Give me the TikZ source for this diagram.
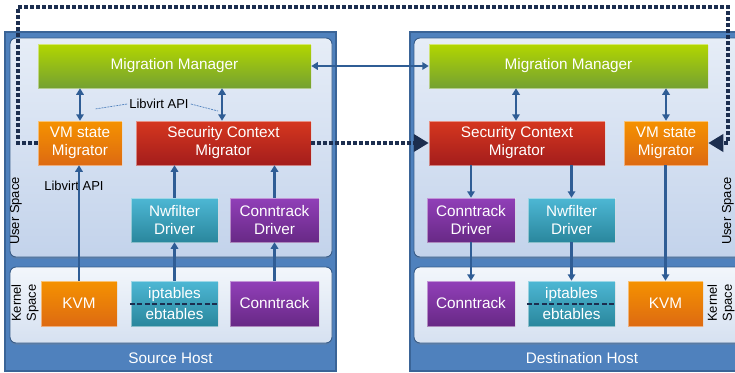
\documentclass[tikz,border=0pt]{standalone}
\usepackage{fontspec}
\setmainfont{Liberation Sans}
\usetikzlibrary{arrows.meta,shadows}
\definecolor{hostfill}{HTML}{4F81BD}
\definecolor{hostdraw}{HTML}{3A6497}
\definecolor{userT}{HTML}{E6EDF7}
\definecolor{userB}{HTML}{C3D3EB}
\definecolor{kernT}{HTML}{F2F6FB}
\definecolor{kernB}{HTML}{D6E1F1}
\definecolor{panelDraw}{HTML}{385D8A}
\definecolor{grT}{HTML}{B2D600}
\definecolor{grB}{HTML}{74A132}
\definecolor{orT}{HTML}{F59200}
\definecolor{orB}{HTML}{DD6A12}
\definecolor{reT}{HTML}{D5371F}
\definecolor{reB}{HTML}{A41D1C}
\definecolor{teT}{HTML}{4DB7D4}
\definecolor{teB}{HTML}{2A879D}
\definecolor{puT}{HTML}{913FB8}
\definecolor{puB}{HTML}{682986}
\definecolor{arr}{HTML}{2F5D95}
\definecolor{navy}{HTML}{1C2E4F}
\definecolor{callc}{HTML}{4F81BD}
\tikzset{
  blk/.style={rectangle, inner sep=0pt, align=center, text=white,
    font=\fontsize{15.3}{18}\selectfont, draw=white, draw opacity=0.45, line width=0.5pt,
    drop shadow={opacity=0.25, shadow xshift=0.8pt, shadow yshift=-1.2pt}},
  sz/.style 2 args={minimum width=#1, minimum height=#2},
  grn/.style={blk, top color=grT, bottom color=grB},
  org/.style={blk, top color=orT, bottom color=orB},
  red/.style={blk, top color=reT, bottom color=reB},
  teal/.style={blk, top color=teT, bottom color=teB},
  purp/.style={blk, top color=puT, bottom color=puB},
  host/.style={fill=hostfill, draw=hostdraw, line width=1.5pt},
  userp/.style={top color=userT, bottom color=userB, draw=panelDraw, line width=0.9pt, rounded corners=6pt},
  kernp/.style={top color=kernT, bottom color=kernB, draw=panelDraw, line width=0.9pt, rounded corners=6pt},
  lbl/.style={font=\fontsize{13}{15}\selectfont, text=black, inner sep=2pt},
  rlbl/.style={lbl, rotate=90, align=center},
  hlbl/.style={font=\fontsize{15.3}{18}\selectfont, text=white},
  link/.style={draw=arr, line width=2.3pt, -{Triangle[length=6.5pt,width=7.5pt]}},
  dlink/.style={draw=arr, line width=2.3pt, {Triangle[length=6.5pt,width=7.5pt]}-{Triangle[length=6.5pt,width=7.5pt]}},
  dotline/.style={draw=navy, line width=3.6pt, dash pattern=on 3.4pt off 2.6pt, -{Triangle[length=15pt,width=17pt]}},
  callout/.style={draw=callc, line width=0.7pt, dash pattern=on 2pt off 1pt},
  sep/.style={draw=navy, line width=2pt, dash pattern=on 5pt off 2.5pt}
}
\begin{document}
\begin{tikzpicture}[x=1pt, y=-1pt]
\clip (0,0) rectangle (735,372);
\fill[white] (0,0) rectangle (735,372);
% hosts
\path[host] (5,32) rectangle (336,371);
\path[host] (410,32) rectangle (745,371);
\path[userp, drop shadow={opacity=0.3, shadow xshift=0pt, shadow yshift=-1.5pt}] (10,38) rectangle (332,257);
\path[kernp, drop shadow={opacity=0.3, shadow xshift=0pt, shadow yshift=-1.5pt}] (10,267) rectangle (332,343);
\path[userp, drop shadow={opacity=0.3, shadow xshift=0pt, shadow yshift=-1.5pt}] (414,38) rectangle (760,257);
\path[kernp, drop shadow={opacity=0.3, shadow xshift=0pt, shadow yshift=-1.5pt}] (414,267) rectangle (760,343);
\node[hlbl] (src) at (170.5,358) {Source Host};
\node[hlbl] (dst) at (582,358) {Destination Host};
\node[rlbl] (us1) at (16,211) {User Space};
\node[rlbl] (ks1) at (25,303) {Kernel\\Space};
\node[rlbl] (us2) at (728,211) {User Space};
\node[rlbl] (ks2) at (721,303) {Kernel\\Space};
% source boxes
\node[grn, sz={273pt}{44pt}] (mm1) at (174.5,66) {Migration Manager};
\node[org, sz={84pt}{44pt}] (vms1) at (80,143) {VM state\\Migrator};
\node[red, sz={175pt}{44pt}] (scm1) at (223.5,143) {Security Context\\Migrator};
\node[teal, sz={87pt}{44pt}] (nf1) at (174.5,220) {Nwfilter\\Driver};
\node[purp, sz={89pt}{44pt}] (cd1) at (274.5,220) {Conntrack\\Driver};
\node[org, sz={76pt}{45pt}] (kvm1) at (79,303.5) {KVM};
\node[teal, sz={87pt}{45pt}, font=\fontsize{15.3}{21}\selectfont] (ipt1) at (174.5,303.5) {iptables\\ebtables};
\node[purp, sz={89pt}{45pt}] (ct1) at (274.5,303.5) {Conntrack};
% dest boxes
\node[grn, sz={279pt}{44pt}] (mm2) at (568.5,66) {Migration Manager};
\node[red, sz={176pt}{44pt}] (scm2) at (517,143) {Security Context\\Migrator};
\node[org, sz={84pt}{44pt}] (vms2) at (666,143) {VM state\\Migrator};
\node[purp, sz={88pt}{44pt}] (cd2) at (471,220) {Conntrack\\Driver};
\node[teal, sz={87pt}{44pt}] (nf2) at (571.5,220) {Nwfilter\\Driver};
\node[purp, sz={88pt}{45pt}] (ct2) at (471,303.5) {Conntrack};
\node[teal, sz={87pt}{45pt}, font=\fontsize{15.3}{21}\selectfont] (ipt2) at (571.5,303.5) {iptables\\ebtables};
\node[org, sz={75pt}{45pt}] (kvm2) at (665.5,303.5) {KVM};
% separators in iptables boxes
\draw[sep] ([xshift=-1pt]ipt1.west) -- ([xshift=1pt]ipt1.east);
\draw[sep] ([xshift=-1pt]ipt2.west) -- ([xshift=1pt]ipt2.east);
% labels
\node[lbl] (lib1) at (159,104) {Libvirt API};
\coordinate (l1a) at (95,109);
\coordinate (l1b) at (218,111);
\draw[callout] (lib1.west) -- (l1a);
\draw[callout] (lib1.east) -- (l1b);
\node[lbl] (lib2) at (74,186) {Libvirt API};
% source arrows
\draw[dlink] (vms1.north) -- (vms1.north |- mm1.south);
\draw[dlink] ([xshift=-1.5pt]scm1.north) -- ([xshift=-1.5pt]scm1.north |- mm1.south);
\draw[link] (kvm1.north) -- (kvm1.north |- vms1.south);
\draw[link] (nf1.north) -- (nf1.north |- scm1.south);
\draw[link] (cd1.north) -- (cd1.north |- scm1.south);
\draw[link] (ipt1.north) -- (nf1.south);
\draw[link] (ct1.north) -- (cd1.south);
% dest arrows
\draw[dlink] ([xshift=-1pt]scm2.north) -- ([xshift=-1pt]scm2.north |- mm2.south);
\draw[dlink] (vms2.north) -- (vms2.north |- mm2.south);
\draw[link] (cd2.north |- scm2.south) -- (cd2.north);
\draw[link] (nf2.north |- scm2.south) -- (nf2.north);
\draw[link] (cd2.south) -- (ct2.north);
\draw[link] (nf2.south) -- (ipt2.north);
\draw[link] (kvm2.north |- vms2.south) -- (kvm2.north);
% manager link
\draw[dlink] (mm1.east) -- (mm2.west);
% dotted migration paths
\coordinate (d1) at (18,7);
\coordinate (d2) at (728,7);
\draw[dotline] (scm1.east) -- (scm2.west);
\draw[dotline] (vms1.west) -| (d1) -- (d2) |- (vms2.east);
\end{tikzpicture}
\end{document}
